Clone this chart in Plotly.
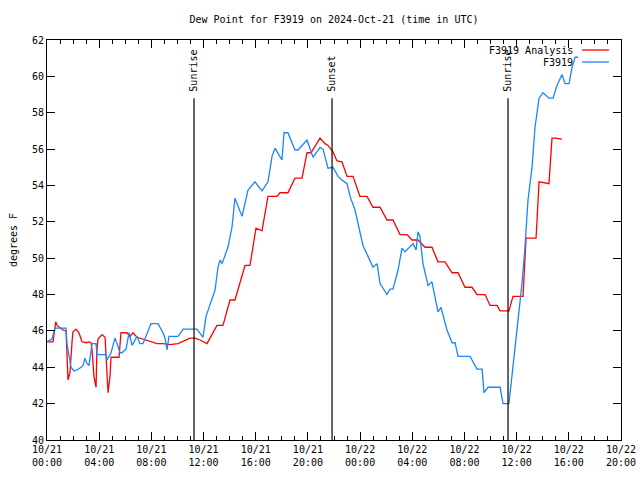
import plotly.graph_objects as go

# ---- data (hours after 2024-10-21 00:00 UTC, degrees F) ----
analysis_hours = [0.00, 0.46, 0.67, 0.77, 1.23, 1.46, 1.61, 1.76, 1.92, 1.99, 2.22, 2.45, 2.68, 2.99,
                  3.22, 3.37, 3.45, 3.60, 3.76, 3.83, 3.91, 4.22, 4.45, 4.52, 4.68, 4.83, 4.91, 5.52,
                  5.67, 5.90, 6.13, 6.36, 6.59, 6.90, 7.36, 7.90, 8.43, 8.89, 9.43, 10.04, 10.35, 10.96,
                  11.35, 11.73, 12.27, 13.03, 13.49, 14.03, 14.41, 15.18, 15.56, 16.02, 16.48, 16.94,
                  17.63, 17.86, 18.47, 19.01, 19.55, 19.93, 20.24, 20.93, 21.31, 21.54, 21.92, 22.23,
                  22.61, 23.00, 23.46, 23.99, 24.53, 24.99, 25.53, 26.06, 26.52, 27.06, 27.60, 27.98,
                  28.44, 28.98, 29.51, 29.97, 30.51, 31.05, 31.51, 32.04, 32.58, 32.96, 33.58, 33.96,
                  34.50, 34.73, 35.41, 35.72, 36.49, 36.72, 37.49, 37.72, 38.48, 38.71, 38.94, 39.48]
analysis_values = [45.4, 45.4, 46.5, 46.3, 46.05, 46.0, 43.3, 43.7, 45.4, 45.95, 46.1, 45.9, 45.4, 45.35,
                   45.4, 45.35, 45.0, 43.5, 42.9, 45.0, 45.55, 45.8, 45.65, 44.6, 42.6, 43.5, 44.55, 44.55,
                   45.9, 45.9, 45.9, 45.7, 45.9, 45.65, 45.55, 45.4, 45.3, 45.3, 45.25, 45.3, 45.4, 45.6,
                   45.6, 45.5, 45.3, 46.3, 46.3, 47.7, 47.7, 49.6, 49.6, 51.65, 51.5, 53.4,
                   53.4, 53.6, 53.6, 54.4, 54.4, 55.8, 55.8, 56.6, 56.3, 56.2, 55.85, 55.35,
                   55.3, 54.5, 54.5, 53.4, 53.4, 52.8, 52.8, 52.1, 52.1, 51.3, 51.3, 51.0,
                   51.0, 50.6, 50.6, 49.8, 49.8, 49.2, 49.2, 48.4, 48.4, 48.0, 48.0, 47.4,
                   47.4, 47.1, 47.1, 47.9, 47.9, 51.1, 51.1, 54.2, 54.1, 56.6, 56.6, 56.55]

obs_hours = [0.00, 0.38, 0.61, 1.46, 1.53, 1.69, 1.84, 2.07, 2.30, 2.61, 2.76, 2.91, 3.07, 3.22, 3.37,
             3.45, 3.76, 3.83, 4.52, 4.60, 4.91, 5.21, 5.37, 5.60, 5.75, 6.06, 6.29, 6.52, 6.90, 7.13,
             7.36, 7.97, 8.51, 8.89, 9.05, 9.20, 9.35, 10.04, 10.35, 10.43, 11.50, 11.96, 12.19, 12.50,
             12.88, 13.11, 13.26, 13.42, 13.87, 14.18, 14.41, 14.95, 15.41, 15.94, 16.48, 16.94, 17.25,
             17.48, 18.01, 18.17, 18.47, 19.01, 19.24, 19.93, 20.39, 20.93, 21.16, 21.54, 21.92, 22.31,
             22.61, 23.00, 23.23, 23.61, 24.22, 24.61, 24.99, 25.30, 25.53, 26.06, 26.29, 26.52, 26.91,
             27.21, 27.44, 28.06, 28.29, 28.44, 28.59, 28.82, 29.21, 29.51, 29.97, 30.20, 30.66, 31.05,
             31.28, 31.51, 32.43, 32.96, 33.35, 33.50, 33.81, 34.73, 34.96, 35.41, 35.72, 36.11, 36.41,
             36.64, 36.87, 37.18, 37.41, 37.72, 38.02, 38.48, 38.79, 39.09, 39.48, 39.71, 40.02, 40.25,
             40.48, 40.71]
obs_values = [45.4, 45.55, 46.15, 46.15, 45.3, 44.6, 44.0, 43.8, 43.85, 44.0, 44.1, 44.5, 44.2, 44.1, 45.1,
              45.3, 45.3, 44.7, 44.7, 44.4, 44.8, 45.6, 45.3, 44.8, 44.8, 45.0, 45.9, 45.2, 45.7, 45.3,
              45.3, 46.4, 46.4, 45.9, 45.6, 44.95, 45.7, 45.7, 46.0, 46.1, 46.1, 45.65, 46.8, 47.5,
              48.25, 49.5, 49.9, 49.7, 50.6, 51.7, 53.3, 52.3, 53.75, 54.2, 53.7, 54.2, 55.6,
              56.05, 55.4, 56.9, 56.9, 55.95, 55.95, 56.5, 55.55, 56.1, 56.0, 54.95, 55.0, 54.5,
              54.3, 54.1, 53.4, 52.65, 50.7, 50.1, 49.5, 49.7, 48.6, 48.0, 48.3, 48.3, 49.35,
              50.55, 50.35, 50.8, 50.45, 51.45, 51.2, 49.7, 48.5, 48.7, 47.05, 47.3, 46.05, 45.35,
              45.35, 44.6, 44.6, 43.9, 43.9, 42.6, 42.9, 42.9, 42.0, 42.0, 44.0, 46.8, 48.6,
              50.6, 53.2, 55.0, 57.2, 58.8, 59.1, 58.8, 58.8, 59.5, 60.1, 59.6, 59.6, 60.5,
              61.05, 61.05]

event_names = ["Sunrise", "Sunset", "Sunrise"]
event_hours = [11.27, 21.85, 35.34]

tick_hours = [0, 4, 8, 12, 16, 20, 24, 28, 32, 36, 40, 44]
tick_labels = ["10/21<br>00:00", "10/21<br>04:00", "10/21<br>08:00", "10/21<br>12:00",
               "10/21<br>16:00", "10/21<br>20:00", "10/22<br>00:00", "10/22<br>04:00",
               "10/22<br>08:00", "10/22<br>12:00", "10/22<br>16:00", "10/22<br>20:00"]
series_names = ["F3919 Analysis", "F3919"]
series_colors = ["#ff0000", "#1a85ff"]

FONT = "DejaVu Sans Mono"

fig = go.Figure()
fig.add_trace(go.Scatter(x=analysis_hours, y=analysis_values, mode="lines",
                         line=dict(color=series_colors[0], width=1.3), name=series_names[0]))
fig.add_trace(go.Scatter(x=obs_hours, y=obs_values, mode="lines",
                         line=dict(color=series_colors[1], width=1.3), name=series_names[1]))

for name, h in zip(event_names, event_hours):
    fig.add_shape(type="line", xref="x", yref="y", x0=h, x1=h, y0=40, y1=58.8,
                  line=dict(color="black", width=1.2))
    fig.add_annotation(x=h, y=59.05, xref="x", yref="y", text=name, textangle=-90,
                       showarrow=False, xanchor="center", yanchor="bottom",
                       font=dict(family=FONT, size=10, color="black"))

# legend drawn top-right in gnuplot style (text right-aligned, sample on right)
leg_y = [0.975, 0.945]
for name, color, yy in zip(series_names, series_colors, leg_y):
    fig.add_annotation(x=0.919, y=yy, xref="paper", yref="paper", text=name, showarrow=False,
                       xanchor="right", yanchor="middle", font=dict(family=FONT, size=10, color="black"))
    fig.add_shape(type="line", xref="paper", yref="paper", x0=0.932, x1=0.979, y0=yy, y1=yy,
                  line=dict(color=color, width=1.3))

fig.update_layout(
    width=640, height=480,
    margin=dict(l=47, r=19, t=40, b=40, autoexpand=False),
    paper_bgcolor="white", plot_bgcolor="white",
    showlegend=False,
    title=dict(text="Dew Point for F3919 on 2024-Oct-21 (time in UTC)", x=0.5, xref="paper",
               y=1 - 19 / 480, yanchor="middle", font=dict(family=FONT, size=10, color="black")),
    font=dict(family=FONT, size=10, color="black"),
)
fig.update_xaxes(range=[0, 44], tickvals=tick_hours, ticktext=tick_labels, automargin=False,
                 showgrid=False, zeroline=False, showline=True, linecolor="black", linewidth=1,
                 mirror="allticks", ticks="inside", ticklen=8, tickcolor="black",
                 minor=dict(dtick=1, tick0=0, ticks="inside", ticklen=4, tickcolor="black", showgrid=False),
                 tickfont=dict(family=FONT, size=10))
fig.update_yaxes(range=[40, 62], dtick=2, tick0=40, automargin=False,
                 showgrid=False, zeroline=False, showline=True, linecolor="black", linewidth=1,
                 mirror="allticks", ticks="inside", ticklen=8, tickcolor="black",
                 title=dict(text="degrees F", font=dict(family=FONT, size=10), standoff=12),
                 tickfont=dict(family=FONT, size=10))

fig.write_html("out.html", config={"displayModeBar": False},
               post_script="document.body.style.margin='0';document.body.style.overflow='hidden';")
